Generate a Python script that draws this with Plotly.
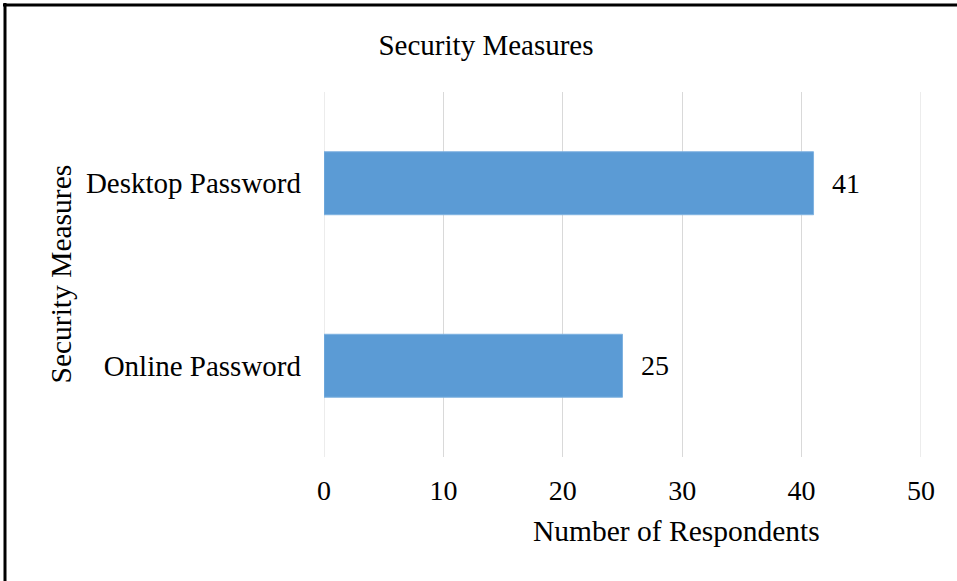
import plotly.graph_objects as go

# Survey results
categories = ["Online Password", "Desktop Password"]
respondents = [25, 41]
x_ticks = [0, 10, 20, 30, 40, 50]

chart_title = "Security Measures"
x_title = "Number of Respondents"
y_title = "Security Measures"

W, H = 957, 581
L, R, T, B = 324, 36, 92, 124
FONT = "Liberation Serif, Times New Roman, serif"
BAR = "#5B9BD5"
GRID = "#D9D9D9"

fig = go.Figure()
fig.add_trace(go.Bar(
    y=categories, x=respondents, orientation="h",
    marker=dict(color=BAR, line=dict(color="#7FB2E0", width=1)),
    hoverinfo="x+y",
))

pw = W - L - R
ph = H - T - B


def px_x(p):
    return (p - L) / pw


def px_y(p):
    return 1 - (p - T) / ph


annotations = []
# value labels beside each bar
for c, v in zip(categories, respondents):
    annotations.append(dict(
        x=v, y=c, xref="x", yref="y", text=str(v), showarrow=False,
        xanchor="left", yanchor="middle", xshift=16,
        font=dict(family=FONT, size=28, color="#000000"),
    ))
# axis titles
annotations.append(dict(
    x=px_x(676), y=px_y(531), xref="paper", yref="paper", text=x_title,
    showarrow=False, xanchor="center", yanchor="middle",
    font=dict(family=FONT, size=29.5, color="#000000"),
))
annotations.append(dict(
    x=px_x(60), y=0.5, xref="paper", yref="paper", text=y_title,
    showarrow=False, textangle=-90, xanchor="center", yanchor="middle",
    font=dict(family=FONT, size=29.5, color="#000000"),
))

shapes = [
    dict(type="line", xref="paper", yref="paper",
         x0=px_x(3), x1=px_x(W + 2), y0=px_y(5), y1=px_y(5),
         line=dict(color="#000000", width=3)),
    dict(type="line", xref="paper", yref="paper",
         x0=px_x(5), x1=px_x(5), y0=px_y(3), y1=px_y(H + 2),
         line=dict(color="#000000", width=3)),
]
# gridlines at both ends of the value axis
for t in (x_ticks[0], x_ticks[-1]):
    shapes.append(dict(type="line", xref="x", yref="paper", x0=t, x1=t,
                       y0=0, y1=1, layer="below",
                       line=dict(color=GRID, width=1)))

fig.update_layout(
    width=W, height=H,
    margin=dict(l=L, r=R, t=T, b=B, pad=0),
    paper_bgcolor="#FFFFFF", plot_bgcolor="#FFFFFF",
    bargap=0.655,
    showlegend=False,
    title=dict(text=chart_title, x=486 / W, xref="container", xanchor="center",
               y=1 - 45 / H, yref="container", yanchor="middle",
               font=dict(family=FONT, size=29, color="#000000")),
    annotations=annotations,
    shapes=shapes,
)
fig.update_xaxes(
    range=[x_ticks[0], x_ticks[-1]], tickvals=x_ticks,
    ticktext=[str(t) for t in x_ticks],
    showgrid=True, gridcolor=GRID, gridwidth=1,
    zeroline=False, showline=False, ticks="",
    ticklabelstandoff=14,
    tickfont=dict(family=FONT, size=28, color="#000000"),
)
fig.update_yaxes(
    categoryorder="array", categoryarray=categories,
    showgrid=False, zeroline=False, showline=False, ticks="",
    ticklabelstandoff=22,
    tickfont=dict(family=FONT, size=29, color="#000000"),
)

fig.write_html("out.html")
